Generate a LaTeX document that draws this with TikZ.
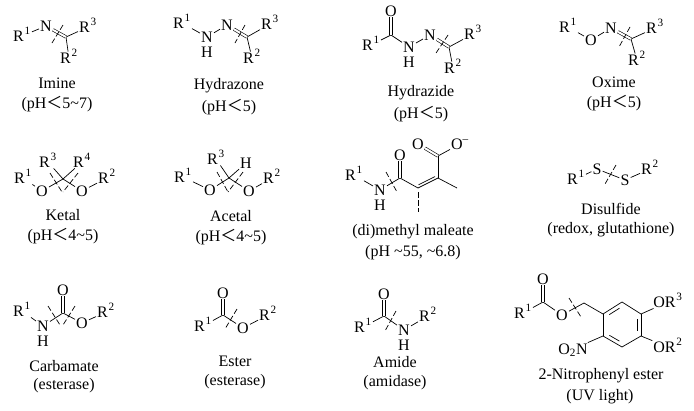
\documentclass[tikz,border=0pt]{standalone}
\usepackage{fontspec}
\usepackage{tikz}
\usetikzlibrary{calc}
\setmainfont{Liberation Serif}
\newfontfamily\cjk{Noto Sans CJK SC}
\newcommand{\lessw}{{\cjk ＜}}
\newcommand{\tld}{\textasciitilde}
\newcommand{\Rg}[1]{R\kern0.8pt\textsuperscript{#1}}
\begin{document}
\begin{tikzpicture}[x=1pt,y=-1pt]
\tikzset{atom/.style = {inner sep=1pt,text height=10.5pt,text depth=0pt,font=\fontsize{16}{16}\selectfont},
  caption/.style = {inner sep=0pt,font=\fontsize{16}{16}\selectfont},
  bond/.style = {line width=0.7pt},
  dbond/.style = {line width=0.6pt,double,double distance=2pt},
  cut/.style = {line width=0.7pt,dash pattern=on 5.5pt off 2.5pt}}
\useasboundingbox (0,0) rectangle (694,410);
% atoms
\foreach \x/\y/\name/\txt in {
  22/36/ia/{\Rg{1}},46/26/in/N,88/27/ic/{\Rg{3}},69/58/ib/{\Rg{2}},
  182/23/ha/{\Rg{1}},207/37/hn/N,207/52/hh/H,227/25/hm/N,270/24/hc/{\Rg{3}},252/58/hb/{\Rg{2}},
  391/11/za/O,371/45/zr/{\Rg{1}},409/47/zn/N,409/62/zh/H,430/35/zm/N,473/34/zc/{\Rg{3}},453/68/zb/{\Rg{2}},
  568/27/oa/{\Rg{1}},591/40/oo/O,611/28/on/N,655/28/oc/{\Rg{3}},637/60/ob/{\Rg{2}},
  23/178/ka/{\Rg{1}},42/191/ko/O,82/191/kp/O,107/178/kb/{\Rg{2}},48/162/kc/{\Rg{3}},82/162/kd/{\Rg{4}},
  183/177/aa/{\Rg{1}},210/190/ao/O,249/191/ap/O,272/178/ab/{\Rg{2}},216/159/ac/{\Rg{3}},246/163/ad/H,
  354/175/ma/{\Rg{1}},380/190/mn/N,380/205/mh/H,400/155/mo/O,418/144/mp/O,460/144/mq/{O\textsuperscript{–}},
  576/179/sa/{\Rg{1}},597/169/ss/S,625/180/st/S,650/169/sb/{\Rg{2}},
  22/311/ca/{\Rg{1}},43/326/cn/N,43/341/ch/H,63/290/co/O,82/323/cp/O,106/312/cb/{\Rg{2}},
  203/326/ea/{\Rg{1}},223/293/eo/O,243/328/ep/O,268/315/eb/{\Rg{2}},
  363/327/da/{\Rg{1}},384/294/do/O,404/330/dn/N,404/345/dh/H,428/316/db/{\Rg{2}},
  523/313/pa/{\Rg{1}},543/279/po/O,562/315/pp/O,573/349/pn/{O\textsubscript{2}N},668/302/pc/{O\Rg{3}},668/347/pb/{O\Rg{2}}} {
    \node[atom] (\name) at (\x,\y) {\txt};
}
% bare carbons
\foreach \x/\y/\name in {66/37/ig,247/37/hg,391/35/zq,449/47/zg,631/39/og,63/179/kg,229/178/ag,
  400/178/mb,418/188/mc,438/178/md,438/156/me,457/188/mf,63/313/cg,223/315/eg,384/316/dg,
  543/302/pq,584/303/pg,603/314/r1,622/302/r2,641/314/r3,641/336/r4,622/347/r5,603/336/r6,622/325/rm} {
    \coordinate (\name) at (\x,\y);
}
% single bonds
\foreach \i/\j in {ia/in,ig/ic,ig/ib,ha/hn,hn/hm,hg/hc,hg/hb,zr/zq,zq/zn,zn/zm,zg/zc,zg/zb,
  oa/oo,oo/on,og/oc,og/ob,ka/ko,ko/kg,kg/kp,kp/kb,kg/kc,kg/kd,aa/ao,ao/ag,ag/ap,ap/ab,ag/ac,ag/ad,
  ma/mn,mn/mb,mb/mc,md/me,me/mq,md/mf,sa/ss,ss/st,st/sb,ca/cn,cn/cg,cg/cp,cp/cb,ea/eg,eg/ep,ep/eb,
  da/dg,dg/dn,dn/db,pa/pq,pq/pp,pp/pg,pg/r1,r1/r2,r2/r3,r3/r4,r4/r5,r5/r6,r6/r1,r3/pc,r4/pb,r6/pn} {
    \draw[bond] (\i) -- (\j);
}
% double bonds
\foreach \i/\j in {in/ig,hm/hg,zm/zg,on/og,zq/za,mb/mo,me/mp,cg/co,eg/eo,dg/do,pq/po} {
    \draw[dbond] (\i) -- (\j);
}
\draw[bond] (mc) -- (md);
\draw[bond,shorten >=2pt,shorten <=2pt] ($(mc)!2.6pt!90:(md)$) -- ($(md)!2.6pt!-90:(mc)$);
\foreach \i/\j in {1/2,3/4,5/6} {
    \draw[bond,shorten >=3pt,shorten <=3pt] ($(rm)!.8!(r\i)$) -- ($(rm)!.8!(r\j)$);
}
% cleavage marks
\foreach \name/\xa/\ya/\xb/\yb in {xi/63/25/52/43,xh/245/25/235/43,xz/448/35/436/53,xo/630/27/619/47,
  xk/50/173/62/192,xl/78/173/63/192,xa/217/172/228/192,xb/243/172/228/192,xm/386/172/397/192,xn/418/192/418/212,
  xs/616/165/605/184,xc/48/306/60/325,xd/75/306/63/325,xe/237/309/225/329,xf/396/311/385/331,xp/569/298/581/317} {
    \coordinate (\name a) at (\xa,\ya);
    \coordinate (\name b) at (\xb,\yb);
    \draw[cut] (\name a) -- (\name b);
}
% captions
\foreach \x/\y/\name/\txt in {
  57/83/tia/Imine,57/104/tib/{(pH\lessw5\tld7)},229/86/tha/Hydrazone,229/107/thb/{(pH\lessw5)},
  421/93/tza/Hydrazide,421/114/tzb/{(pH\lessw5)},614/82/toa/Oxime,614/103/tob/{(pH\lessw5)},
  63/215/tka/Ketal,63/236/tkb/{(pH\lessw4\tld5)},231/216/taa/Acetal,231/237/tab/{(pH\lessw4\tld5)},
  413/232/tma/(di)methyl maleate,413/253/tmb/{(pH \tld55, \tld6.8)},611/209/tsa/Disulfide,611/230/tsb/{(redox, glutathione)},
  64/366/tca/Carbamate,64/386/tcb/(esterase),235/361/tea/Ester,235/382/teb/(esterase),
  395/362/tda/Amide,395/383/tdb/(amidase),601/376/tpa/2-Nitrophenyl ester,600/397/tpb/(UV light)} {
    \node[caption] (\name) at (\x,\y) {\txt};
}
\end{tikzpicture}
\end{document}
